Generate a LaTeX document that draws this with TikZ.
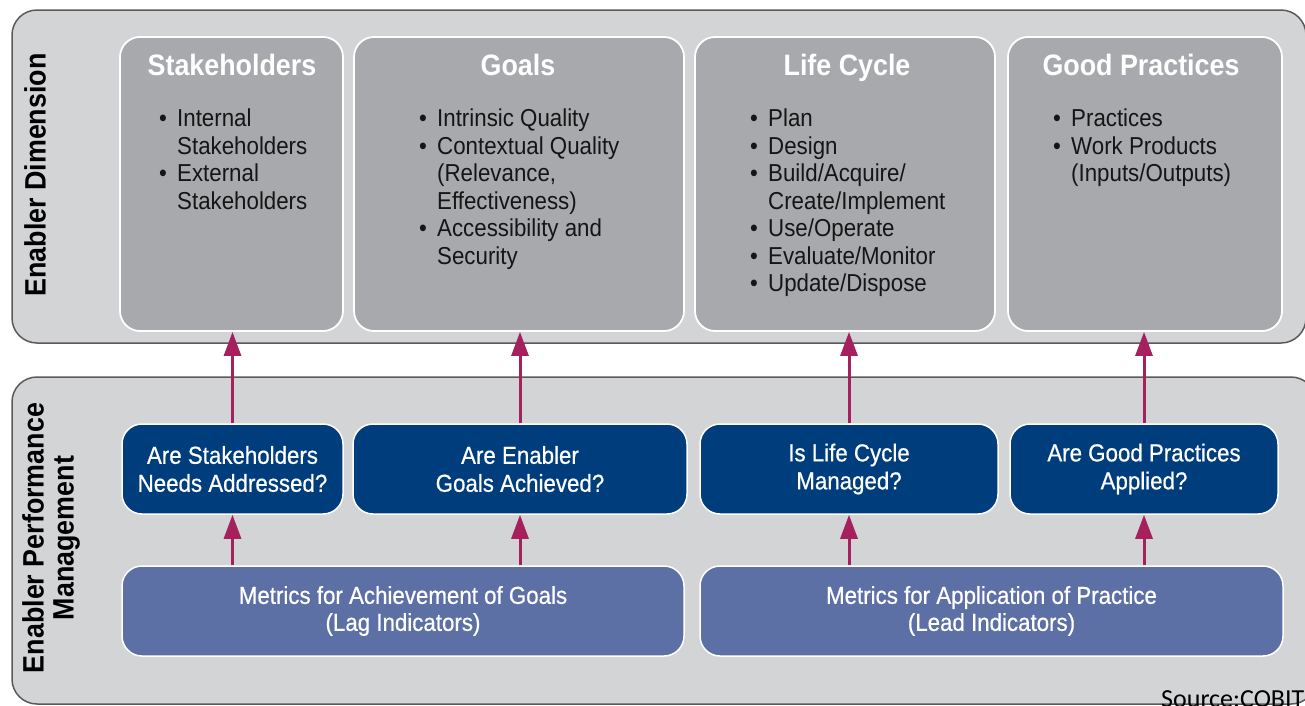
\documentclass[tikz,border=0pt]{standalone}
\usepackage{fontspec}
\setmainfont{Liberation Sans}[FakeStretch=0.91]
\newfontfamily\medfont{Liberation Sans}[FakeStretch=0.91,FakeBold=0.6]
\newfontfamily\srcfont{Carlito}
\usetikzlibrary{arrows.meta}
\definecolor{panelc}{HTML}{D3D4D6}
\definecolor{panelline}{HTML}{5A5A5C}
\definecolor{gboxc}{HTML}{A7A9AC}
\definecolor{dblue}{HTML}{003D7C}
\definecolor{lblue}{HTML}{5D70A5}
\definecolor{arrc}{HTML}{A6205E}
\definecolor{txtc}{HTML}{151515}
\newcommand\bul{\makebox[18pt][l]{•}}
\newcommand\ind{\hspace*{18pt}}
\begin{document}
\begin{tikzpicture}[x=1pt,y=-1pt,
  panelbox/.style={draw=panelline, line width=1.5pt, fill=panelc, rounded corners=25pt, inner sep=0pt},
  dimbox/.style={draw=white, line width=1.8pt, fill=gboxc, rounded corners=20pt, minimum height=294pt, inner sep=0pt},
  qbox/.style={draw=white, line width=1.5pt, fill=dblue, rounded corners=20pt, minimum height=90pt, inner sep=0pt,
    text=white, align=center, font=\medfont\fontsize{24.5}{28}\selectfont},
  mbox/.style={draw=white, line width=1.5pt, fill=lblue, rounded corners=20pt, minimum height=90pt, inner sep=0pt,
    text=white, align=center, font=\medfont\fontsize{24.5}{27}\selectfont},
  titletext/.style={anchor=base, text=white, inner sep=0pt, font=\bfseries\fontsize{29.5}{32}\selectfont},
  listtext/.style={anchor=north west, inner sep=0pt, align=left, text=txtc, font=\fontsize{24.5}{27.5}\selectfont},
  sidetext/.style={rotate=90, align=center, text=black, inner sep=0pt, font=\bfseries\fontsize{29.5}{30}\selectfont},
  arr/.style={draw=arrc, line width=3pt, -{Triangle[width=17pt,length=24pt]}}
]
\useasboundingbox (0,0) rectangle (1305,705);
\clip (0,0) rectangle (1305,705);

% panels
\node[panelbox, minimum width=1294pt, minimum height=333pt] (top) at (659,176.5) {};
\node[panelbox, minimum width=1304pt, minimum height=327pt] (bot) at (664,540.5) {};

% side labels
\node[sidetext] (ed) at (35,175) {Enabler Dimension};
\node[sidetext] (epm) at (51,538) {Enabler Performance\\Management};

% dimension boxes
\node[dimbox, minimum width=223pt] (s1) at (231.5,184) {};
\node[dimbox, minimum width=330pt] (s2) at (519,184) {};
\node[dimbox, minimum width=300pt] (s3) at (845,184) {};
\node[dimbox, minimum width=274pt] (s4) at (1145,184) {};

\node[titletext] (t1) at (232,75) {Stakeholders};
\node[titletext] (t2) at (518,75) {Goals};
\node[titletext] (t3) at (847,75) {Life Cycle};
\node[titletext] (t4) at (1141,75) {Good Practices};

\node[listtext] (l1) at (159,109) {\bul Internal\\\ind Stakeholders\\\bul External\\\ind Stakeholders};
\node[listtext] (l2) at (419,109) {\bul Intrinsic Quality\\\bul Contextual Quality\\\ind (Relevance,\\\ind Effectiveness)\\\bul Accessibility and\\\ind Security};
\node[listtext] (l3) at (750,109) {\bul Plan\\\bul Design\\\bul Build/Acquire/\\\ind Create/Implement\\\bul Use/Operate\\\bul Evaluate/Monitor\\\bul Update/Dispose};
\node[listtext] (l4) at (1053,109) {\bul Practices\\\bul Work Products\\\ind (Inputs/Outputs)};

% question boxes
\node[qbox, minimum width=221pt] (q1) at (232.5,469) {Are Stakeholders\\Needs Addressed?};
\node[qbox, minimum width=334pt] (q2) at (520,469) {Are Enabler\\Goals Achieved?};
\node[qbox, minimum width=298pt] (q3) at (849,469) {Is Life Cycle\\Managed?};
\node[qbox, minimum width=268pt] (q4) at (1144,469) {Are Good Practices\\Applied?};

% metric boxes
\node[mbox, minimum width=562pt] (m1) at (403,611) {Metrics for Achievement of Goals\\(Lag Indicators)};
\node[mbox, minimum width=583pt] (m2) at (991.5,611) {Metrics for Application of Practice\\(Lead Indicators)};

% arrows
\foreach \q/\s in {q1/s1,q2/s2,q3/s3,q4/s4}{
  \draw[arr] (\q.north) -- (\q.north |- \s.south);
}
\draw[arr] (q1.south |- m1.north) -- (q1.south);
\draw[arr] (q2.south |- m1.north) -- (q2.south);
\draw[arr] (q3.south |- m2.north) -- (q3.south);
\draw[arr] (q4.south |- m2.north) -- (q4.south);

% source
\node[anchor=base west, inner sep=0pt, text=black, font=\srcfont\fontsize{26}{30}\selectfont] (src) at (1161,707) {Source:COBIT};
\end{tikzpicture}
\end{document}
